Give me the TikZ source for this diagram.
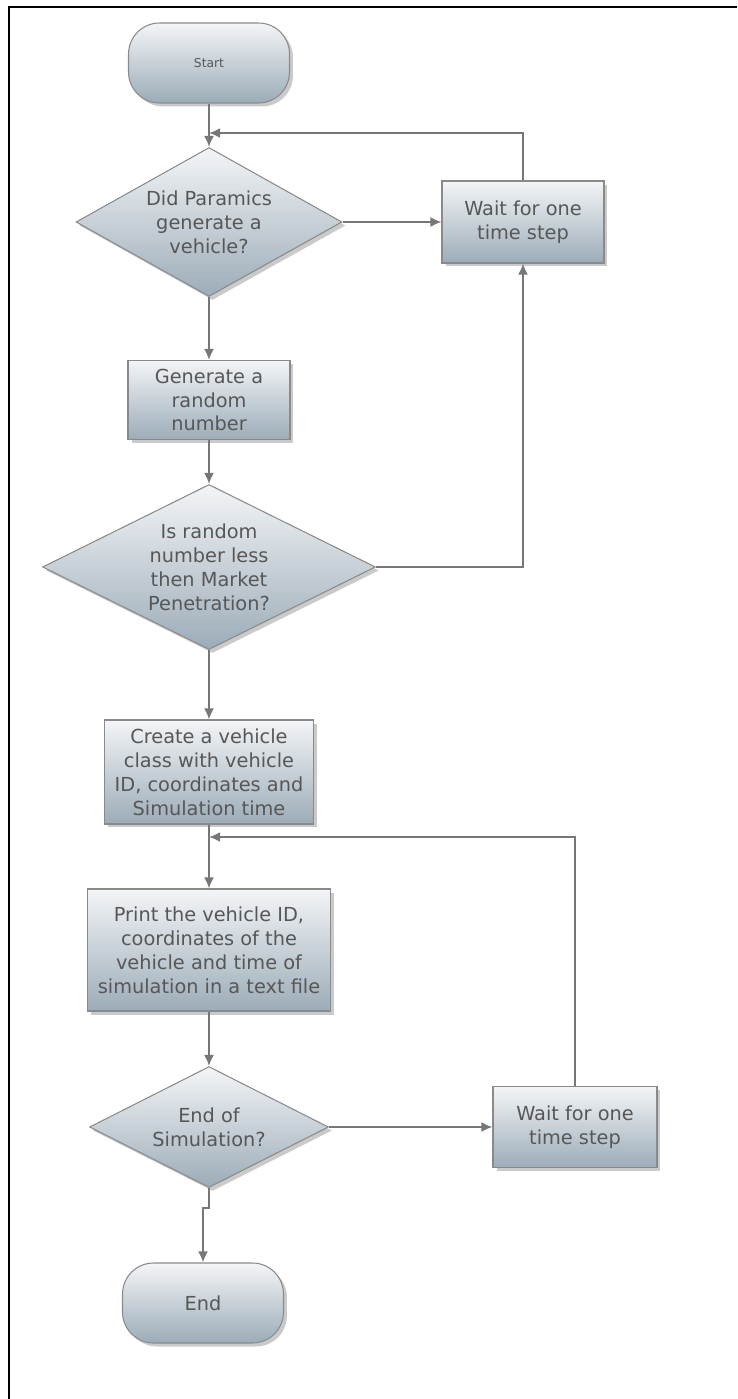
\documentclass[tikz,border=0pt]{standalone}
\usepackage{fontspec}
\setmainfont{DejaVu Sans}
\usetikzlibrary{shapes.geometric,shadows,arrows.meta}

\definecolor{boxtop}{HTML}{F3F5F7}
\definecolor{boxbot}{HTML}{9CACB8}
\definecolor{edgegray}{HTML}{8A8A8A}
\definecolor{txtgray}{HTML}{575757}
\definecolor{linegray}{HTML}{777777}

\begin{document}
\begin{tikzpicture}[x=0.02cm, y=-0.02cm,
    shaded/.style={draw=edgegray, line width=0.6pt, top color=boxtop, bottom color=boxbot,
      drop shadow={shadow xshift=0.07cm, shadow yshift=-0.07cm, opacity=0.35, fill=black!60},
      text=txtgray, align=center, font=\fontsize{11}{13.6}\selectfont},
    procbox/.style={shaded, rectangle, inner sep=1pt},
    decide/.style={shaded, diamond, inner sep=0pt},
    term/.style={shaded, rectangle, rounded corners=0.62cm, minimum width=3.22cm, minimum height=1.6cm},
    flow/.style={draw=linegray, line width=1.1pt, -{Latex[length=0.22cm, width=0.2cm]}}]

    \useasboundingbox (0,0) rectangle (737,1399);
    \draw[line width=1.7pt] (9,1399) -- (9,7) -- (737,7);

    \node[term, font=\fontsize{7}{8}\selectfont] (start) at (209, 63) {Start};
    \node[decide, aspect=1.79, minimum width=5.32cm, minimum height=2.98cm] (ask) at (209, 222)
        {Did Paramics\\generate a\\vehicle?};
    \node[procbox, minimum width=3.24cm, minimum height=1.64cm] (wait1) at (523, 222)
        {Wait for one\\time step};
    \node[procbox, minimum width=3.24cm, minimum height=1.58cm] (rand) at (209, 400)
        {Generate a\\random\\number};
    \node[decide, aspect=2.02, minimum width=6.66cm, minimum height=3.3cm] (cmp) at (209, 567)
        {Is random\\number less\\then Market\\Penetration?};
    \node[procbox, minimum width=4.18cm, minimum height=2.08cm] (create) at (209, 772)
        {Create a vehicle\\class with vehicle\\ID, coordinates and\\Simulation time};
    \node[procbox, minimum width=4.86cm, minimum height=2.44cm] (print) at (209, 950)
        {Print the vehicle ID,\\coordinates of the\\vehicle and time of\\simulation in a text file};
    \node[decide, aspect=1.98, minimum width=4.78cm, minimum height=2.42cm] (check) at (209, 1127)
        {End of\\Simulation?};
    \node[procbox, minimum width=3.28cm, minimum height=1.62cm] (wait2) at (575, 1127)
        {Wait for one\\time step};
    \node[term] (end) at (203, 1303) {End};

    \coordinate (j1) at (209, 133);
    \coordinate (j2) at (209, 837);
    \coordinate (jog) at (209, 1208);

    \draw[flow] (start) -- (ask);
    \draw[flow] (ask) -- (wait1);
    \draw[flow] (wait1.north) |- (j1);
    \draw[flow] (ask) -- (rand);
    \draw[flow] (rand) -- (cmp);
    \draw[flow] (cmp.east) -| (wait1.south);
    \draw[flow] (cmp) -- (create);
    \draw[flow] (create) -- (print);
    \draw[flow] (wait2.north) |- (j2);
    \draw[flow] (print) -- (check);
    \draw[flow] (check) -- (wait2);
    \draw[flow] (check.south) -- (jog) -| (end.north);
\end{tikzpicture}
\end{document}
